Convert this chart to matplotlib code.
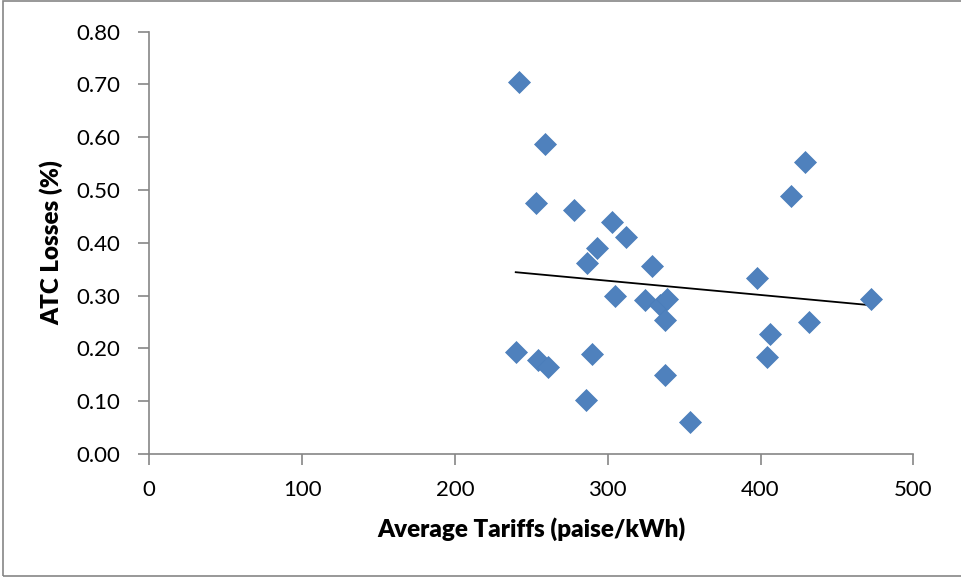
import numpy as np
import matplotlib
matplotlib.use("Agg")
import matplotlib.pyplot as plt
from matplotlib.patches import Rectangle

# Tarifa media (paise/kWh) e perdas ATC
tarifas = [242.0, 258.8, 252.9, 277.7, 302.8, 311.8, 292.8,
           286.6, 328.8, 304.8, 324.4, 334.2, 338.8, 337.7,
           239.8, 254.6, 261.1, 289.7, 337.7, 285.8, 353.9,
           428.9, 420.0, 397.9, 472.1, 431.9, 406.0, 404.0]
perdas = [0.705, 0.588, 0.476, 0.462, 0.439, 0.411, 0.391,
          0.362, 0.357, 0.300, 0.292, 0.283, 0.294, 0.253,
          0.193, 0.178, 0.164, 0.189, 0.149, 0.102, 0.061,
          0.554, 0.488, 0.333, 0.293, 0.250, 0.228, 0.184]

x_ticks = [0, 100, 200, 300, 400, 500]
y_ticks = [0.0, 0.1, 0.2, 0.3, 0.4, 0.5, 0.6, 0.7, 0.8]

plt.rcParams['font.family'] = ['Lato', 'DejaVu Sans']

fig = plt.figure(figsize=(9.62, 5.77), dpi=100)
ax = fig.add_axes([0.1552, 0.2132, 0.9494 - 0.1552, 0.9451 - 0.2132])

x = np.array(tarifas)
y = np.array(perdas)
ax.plot(x, y, linestyle='none', marker='D', markersize=10.8,
        color='#4F81BD', markeredgecolor='#4A7EBB', markeredgewidth=0.5, zorder=3)

# Linha de tendencia (regressao linear)
coef = np.polyfit(x, y, 1)
xt = np.array([x.min(), x.max()])
ax.plot(xt, np.polyval(coef, xt), color='black', linewidth=1.3, zorder=2)

ax.set_xlim(0, 500)
ax.set_ylim(0, 0.8)
ax.set_xticks(x_ticks)
ax.set_yticks(y_ticks)
ax.set_yticklabels(['%.2f' % v for v in y_ticks])

for lado in ['top', 'right']:
    ax.spines[lado].set_visible(False)
for lado in ['left', 'bottom']:
    ax.spines[lado].set_color('#868686')
    ax.spines[lado].set_linewidth(1.2)
ax.tick_params(direction='out', length=8, width=1.2, color='#868686',
               labelsize=16, labelcolor='black')
ax.tick_params(axis='x', pad=11)
ax.tick_params(axis='y', pad=13)

ax.set_xlabel('Average Tariffs (paise/kWh)', fontsize=17.4, fontweight='heavy', labelpad=12)
ax.set_ylabel('ATC Losses (%)', fontsize=17.4, fontweight='heavy', labelpad=9)

fig.patches.append(Rectangle((0.003, 0.002), 1.2, 0.996, transform=fig.transFigure,
                             fill=False, edgecolor='#868686', linewidth=1.2))

fig.savefig('out.png', dpi=100)
